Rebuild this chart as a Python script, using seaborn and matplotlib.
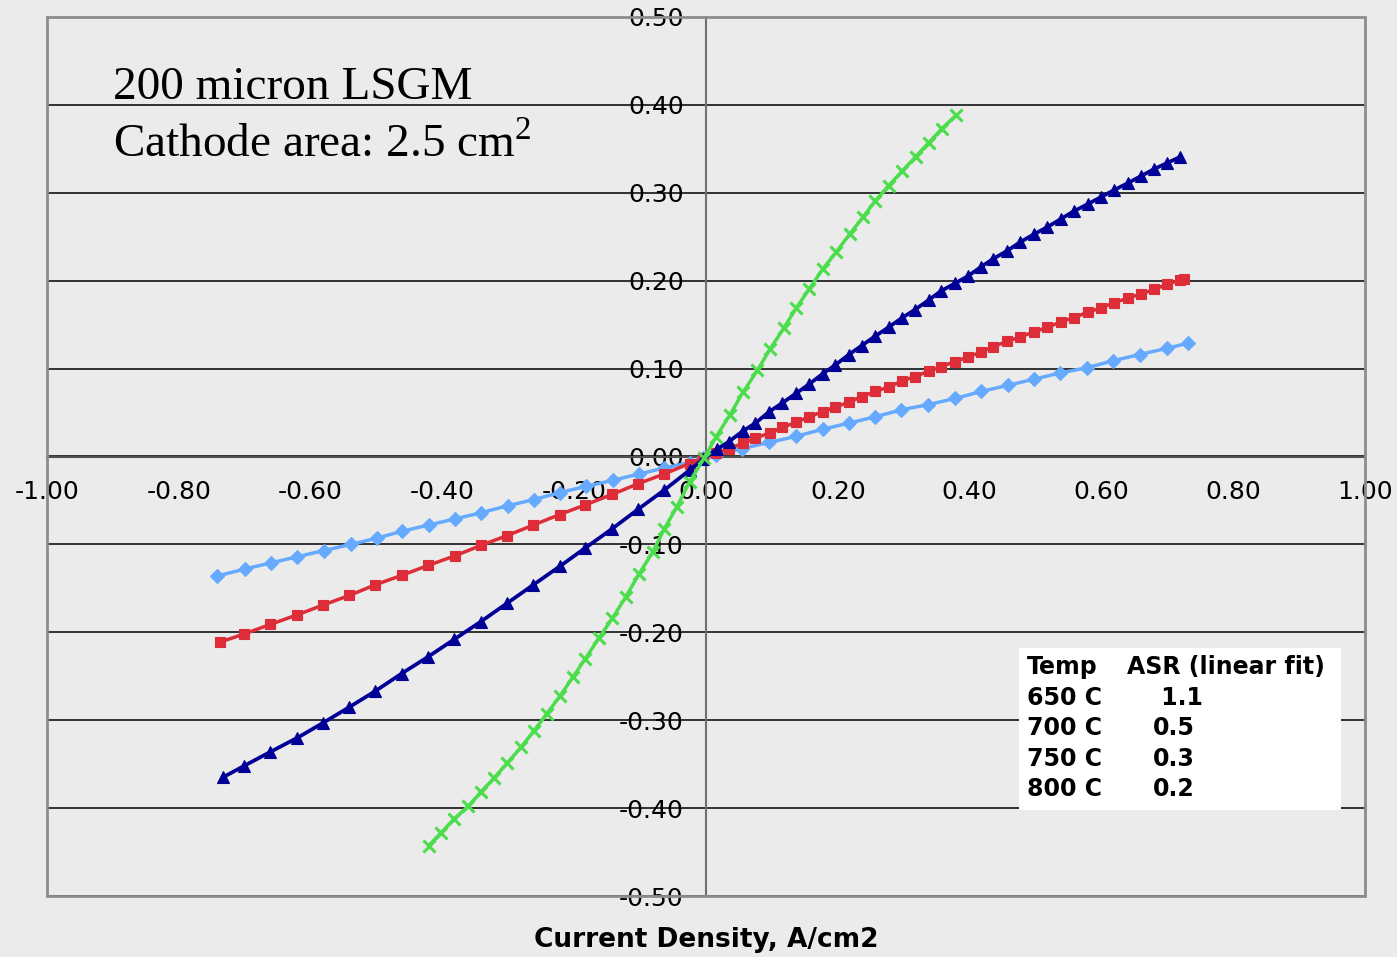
import matplotlib
matplotlib.use('Agg')
import matplotlib.pyplot as plt
import seaborn as sns
from matplotlib.patches import Rectangle
from matplotlib.ticker import FormatStrFormatter, MultipleLocator

# Datos (densidad de corriente A/cm2, voltaje V)
x_650 = [-0.742, -0.700, -0.660, -0.620, -0.580, -0.539, -0.500, -0.461, -0.421, -0.381,
         -0.341, -0.301, -0.261, -0.222, -0.182, -0.141, -0.102, -0.063, -0.024, -0.004,
         0.015, 0.055, 0.096, 0.137, 0.177, 0.217, 0.256, 0.296, 0.337, 0.378,
         0.418, 0.458, 0.498, 0.537, 0.578, 0.618, 0.658, 0.699, 0.732]
y_650 = [-0.136, -0.128, -0.121, -0.114, -0.107, -0.100, -0.093, -0.085, -0.078, -0.071,
         -0.064, -0.056, -0.049, -0.041, -0.034, -0.027, -0.020, -0.013, -0.007, -0.002,
         0.002, 0.009, 0.016, 0.023, 0.031, 0.038, 0.045, 0.053, 0.059, 0.066,
         0.074, 0.081, 0.088, 0.095, 0.101, 0.109, 0.116, 0.123, 0.129]

x_700 = [-0.737, -0.701, -0.661, -0.620, -0.581, -0.541, -0.502, -0.461, -0.422, -0.381,
         -0.341, -0.302, -0.262, -0.222, -0.183, -0.142, -0.103, -0.064, -0.025, -0.005,
         0.015, 0.035, 0.056, 0.075, 0.097, 0.116, 0.137, 0.156, 0.177, 0.196,
         0.217, 0.236, 0.257, 0.277, 0.298, 0.317, 0.338, 0.356, 0.378, 0.397,
         0.418, 0.436, 0.457, 0.477, 0.498, 0.518, 0.538, 0.558, 0.579, 0.599,
         0.619, 0.640, 0.660, 0.680, 0.700, 0.720, 0.725]
y_700 = [-0.211, -0.202, -0.191, -0.180, -0.169, -0.158, -0.146, -0.135, -0.124, -0.113,
         -0.101, -0.090, -0.078, -0.066, -0.055, -0.043, -0.031, -0.020, -0.008, -0.002,
         0.004, 0.009, 0.015, 0.021, 0.027, 0.033, 0.039, 0.045, 0.051, 0.056,
         0.062, 0.068, 0.074, 0.079, 0.086, 0.091, 0.097, 0.102, 0.108, 0.113,
         0.119, 0.125, 0.131, 0.136, 0.142, 0.147, 0.153, 0.158, 0.164, 0.169,
         0.175, 0.180, 0.185, 0.190, 0.196, 0.201, 0.202]

x_750 = [-0.733, -0.701, -0.661, -0.620, -0.581, -0.541, -0.502, -0.462, -0.422, -0.382,
         -0.342, -0.302, -0.262, -0.222, -0.183, -0.142, -0.103, -0.063, -0.024, -0.004,
         0.016, 0.035, 0.056, 0.075, 0.096, 0.116, 0.137, 0.156, 0.177, 0.196,
         0.217, 0.236, 0.257, 0.277, 0.298, 0.317, 0.338, 0.356, 0.378, 0.397,
         0.418, 0.436, 0.457, 0.477, 0.498, 0.518, 0.538, 0.558, 0.579, 0.599,
         0.619, 0.640, 0.660, 0.680, 0.700, 0.720]
y_750 = [-0.365, -0.352, -0.336, -0.320, -0.303, -0.285, -0.267, -0.247, -0.228, -0.208,
         -0.188, -0.167, -0.146, -0.125, -0.104, -0.082, -0.060, -0.038, -0.015, -0.003,
         0.008, 0.017, 0.029, 0.038, 0.051, 0.061, 0.072, 0.082, 0.094, 0.104,
         0.116, 0.126, 0.137, 0.147, 0.158, 0.167, 0.178, 0.188, 0.197, 0.205,
         0.216, 0.225, 0.234, 0.244, 0.253, 0.261, 0.270, 0.279, 0.287, 0.295,
         0.303, 0.311, 0.319, 0.327, 0.334, 0.341]

x_800 = [-0.421, -0.402, -0.382, -0.361, -0.342, -0.322, -0.302, -0.281, -0.261, -0.242,
         -0.222, -0.202, -0.183, -0.163, -0.142, -0.122, -0.102, -0.081, -0.063, -0.044,
         -0.025, -0.003, 0.015, 0.036, 0.056, 0.078, 0.097, 0.118, 0.137, 0.157,
         0.177, 0.198, 0.218, 0.238, 0.257, 0.277, 0.298, 0.318, 0.338, 0.358, 0.379]
y_800 = [-0.443, -0.428, -0.412, -0.398, -0.382, -0.366, -0.349, -0.331, -0.312, -0.293,
         -0.273, -0.251, -0.230, -0.207, -0.184, -0.160, -0.134, -0.109, -0.082, -0.057,
         -0.029, -0.002, 0.022, 0.047, 0.073, 0.098, 0.122, 0.146, 0.169, 0.191,
         0.213, 0.233, 0.253, 0.272, 0.291, 0.308, 0.325, 0.341, 0.357, 0.373, 0.388]

tabla_temp = ['Temp', '650 C', '700 C', '750 C', '800 C']
tabla_asr = ['ASR (linear fit)', ' 1.1', '0.5', '0.3', '0.2']

W, H = 1397, 957
fondo = '#EBEBEB'

sns.set_style('white')
plt.rcParams['font.family'] = ['DejaVu Sans']
plt.rcParams['axes.unicode_minus'] = False
plt.rcParams['text.color'] = 'black'
plt.rcParams['mathtext.fontset'] = 'custom'
plt.rcParams['mathtext.rm'] = 'Liberation Serif'

fig = plt.figure(figsize=(W / 100, H / 100), dpi=100, facecolor=fondo)
ax = fig.add_axes([47 / W, 1 - 896 / H, (1365 - 47) / W, (896 - 17) / H])
ax.set_facecolor(fondo)

series = [
    (x_650, y_650, '#66AAFF', 'D', 7, 2.5),
    (x_700, y_700, '#DD2D38', 's', 7.5, 2.5),
    (x_750, y_750, '#000096', '^', 8.5, 2.7),
    (x_800, y_800, '#4CDD4C', 'x', 9, 2.5),
]
for xs, ys, color, marker, ms, lw in series:
    sns.lineplot(x=xs, y=ys, color=color, marker=marker, markersize=ms,
                 markeredgecolor=color, markeredgewidth=2.2 if marker == 'x' else 0.8,
                 linewidth=lw, sort=False, estimator=None, ax=ax, zorder=3)

ax.set_xlim(-1, 1)
ax.set_ylim(-0.5, 0.5)
ax.xaxis.set_major_locator(MultipleLocator(0.2))
ax.yaxis.set_major_locator(MultipleLocator(0.1))
ax.xaxis.set_major_formatter(FormatStrFormatter('%.2f'))
ax.yaxis.set_major_formatter(FormatStrFormatter('%.2f'))

# Ejes cruzando en el origen (estilo Excel)
ax.spines['left'].set_position(('data', 0))
ax.spines['bottom'].set_position(('data', 0))
ax.spines['top'].set_visible(False)
ax.spines['right'].set_visible(False)
ax.spines['left'].set_color('#707070')
ax.spines['bottom'].set_color('#505050')
ax.spines['left'].set_linewidth(1.5)
ax.spines['bottom'].set_linewidth(1.5)
ax.tick_params(axis='x', direction='out', length=8, width=1.5, color='#707070',
               pad=9, labelsize=18, labelcolor='black')
ax.tick_params(axis='y', direction='out', length=8, width=1.5, color='#707070',
               pad=8, labelsize=18, labelcolor='black')
ax.set_axisbelow(True)
ax.yaxis.grid(True, color='black', linewidth=1.1)
ax.xaxis.grid(False)
ax.set_xlabel('')
ax.set_ylabel('')

# Marco gris del area de trazado
ax.add_patch(Rectangle((0, 0), 1, 1, transform=ax.transAxes, fill=False,
                       edgecolor='#8C8C8C', linewidth=2, clip_on=False, zorder=4))

fig.text(706 / W, 1 - 940 / H, 'Current Density, A/cm2', ha='center', va='center',
         fontsize=19, fontweight='bold', color='black')

fig.text(113 / W, 1 - 99 / H, '200 micron LSGM', family='Liberation Serif',
         fontsize=34, va='baseline', color='black')
fig.text(113 / W, 1 - 157 / H, 'Cathode area: 2.5 cm$^2$', family='Liberation Serif',
         fontsize=34, va='baseline', color='black')

# Tabla de ASR
fig.patches.append(Rectangle((1019 / W, 1 - 810 / H), (1341 - 1019) / W, (810 - 648) / H,
                             transform=fig.transFigure, facecolor='white',
                             edgecolor='none', zorder=5))
filas_y = [667, 698, 728, 759, 789]
for i, (t, a) in enumerate(zip(tabla_temp, tabla_asr)):
    yy = 1 - filas_y[i] / H
    fig.text(1027 / W, yy, t, fontsize=17, fontweight='bold', va='center',
             color='black', zorder=6)
    fig.text((1127 if i == 0 else 1153) / W, yy, a, fontsize=17, fontweight='bold',
             va='center', color='black', zorder=6)

fig.savefig('out.png', dpi=100, facecolor=fondo)
